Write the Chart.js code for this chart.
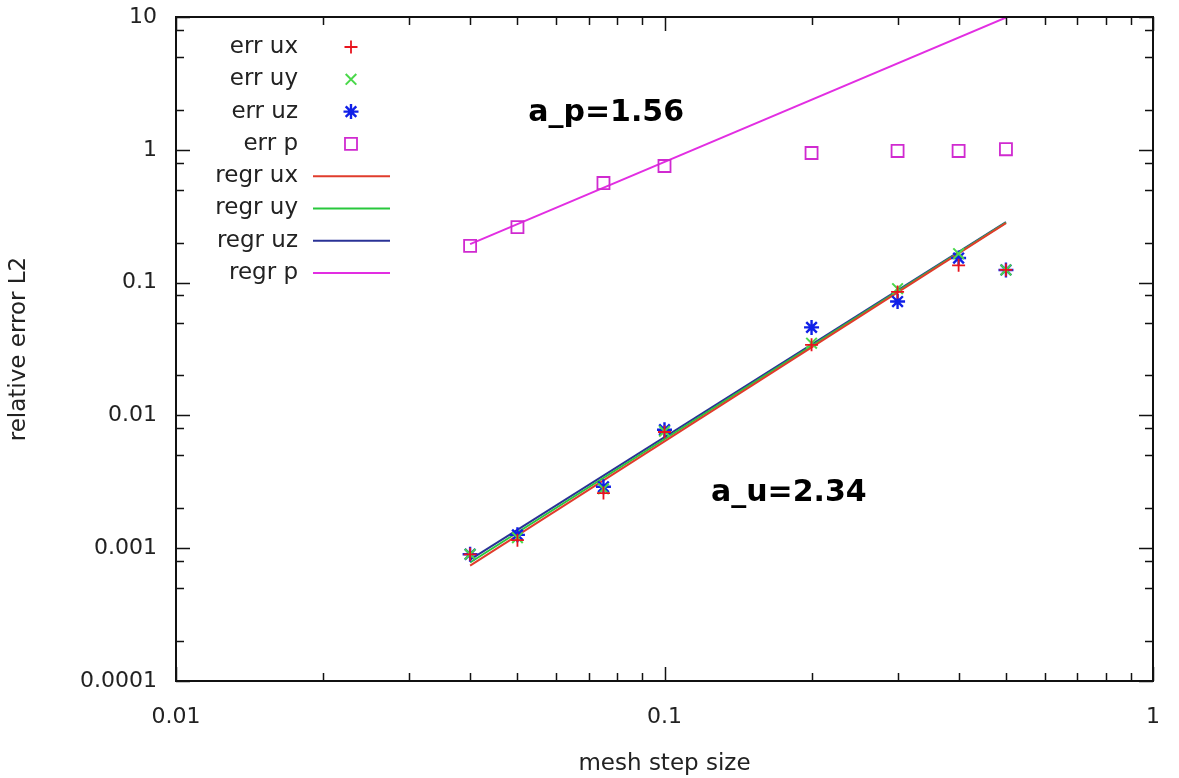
<!DOCTYPE html>
<html>
<head>
<meta charset="utf-8">
<script src="https://cdn.jsdelivr.net/npm/chart.js"></script>
<style>
  html, body { margin: 0; padding: 0; background: #ffffff; }
  #wrap { width: 1179px; height: 778px; position: relative; }
</style>
</head>
<body>
<div id="wrap"><canvas id="chart"></canvas></div>
<script>
// Mesh step sizes at which the errors were measured
const meshSteps = [0.04, 0.05, 0.075, 0.1, 0.2, 0.3, 0.4, 0.5];

// Relative L2 errors per field
const errUx = [0.00090, 0.00115, 0.0026, 0.0075, 0.034, 0.085, 0.135, 0.1245];
const errUy = [0.00090, 0.0012, 0.0028, 0.0076, 0.035, 0.090, 0.165, 0.1245];
const errUz = [0.00090, 0.00126, 0.0029, 0.0078, 0.046, 0.072, 0.153, 0.1245];
const errP  = [0.189, 0.262, 0.562, 0.755, 0.946, 0.98, 0.98, 1.01];

// Power-law regression lines, evaluated at both ends of the fitted range
const regrSteps = [0.04, 0.5];
const regrUx = [0.00074, 0.280];
const regrUy = [0.00078, 0.283];
const regrUz = [0.00082, 0.285];
const regrP  = [0.195, 9.9];

// Fitted convergence rates
const slopeTexts = ['a_p=1.56', 'a_u=2.34'];

// Axis ticks
const xTicks = [0.01, 0.1, 1];
const xTickLabels = ['0.01', '0.1', '1'];
const yTicks = [0.0001, 0.001, 0.01, 0.1, 1, 10];
const yTickLabels = ['0.0001', '0.001', '0.01', '0.1', '1', '10'];
const xMinorMultipliers = [2, 3, 4, 5, 6, 7, 8, 9];
const yMinorMultipliers = [2, 5, 8];

const FONT = "'DejaVu Sans', sans-serif";

const toPoints = (xs, ys) => xs.map((x, i) => ({ x: x, y: ys[i] }));

const markerSet = (label, ys, style, color, radius, width) => ({
  label: label,
  data: toPoints(meshSteps, ys),
  showLine: false,
  pointStyle: style,
  pointRadius: radius,
  pointHoverRadius: radius,
  pointBorderColor: color,
  pointBackgroundColor: 'rgba(0,0,0,0)',
  pointBorderWidth: width,
  borderColor: color,
  backgroundColor: 'rgba(0,0,0,0)'
});

const lineSet = (label, ys, color) => ({
  label: label,
  data: toPoints(regrSteps, ys),
  showLine: true,
  pointRadius: 0,
  borderColor: color,
  borderWidth: 2,
  backgroundColor: color,
  fill: false
});

const datasets = [
  markerSet('err ux', errUx, 'cross', '#e8141e', 6.5, 1.8),
  markerSet('err uy', errUy, 'crossRot', '#4ad84a', 7.5, 2),
  markerSet('err uz', errUz, 'star', '#1020e8', 7.5, 2.4),
  markerSet('err p', errP, 'rect', '#d02ad0', 8.5, 1.8),
  lineSet('regr ux', regrUx, '#e03c2c'),
  lineSet('regr uy', regrUy, '#28c83c'),
  lineSet('regr uz', regrUz, '#2a3296'),
  lineSet('regr p', regrP, '#e22ee2')
];

// Frame with inward major/minor tick marks on all four sides
const framePlugin = {
  id: 'gnuFrame',
  afterDatasetsDraw(chart) {
    const { ctx, chartArea: a, scales: { x, y } } = chart;
    const major = 14, minor = 8;
    ctx.save();
    ctx.strokeStyle = '#111111';
    ctx.lineWidth = 1.5;
    ctx.beginPath();
    const decX = [0.01, 0.1];
    const decY = [0.0001, 0.001, 0.01, 0.1, 1];
    xTicks.forEach(v => {
      const px = Math.round(x.getPixelForValue(v)) + 0.5;
      ctx.moveTo(px, a.bottom); ctx.lineTo(px, a.bottom - major);
      ctx.moveTo(px, a.top); ctx.lineTo(px, a.top + major);
    });
    decX.forEach(d => xMinorMultipliers.forEach(m => {
      const px = Math.round(x.getPixelForValue(d * m)) + 0.5;
      ctx.moveTo(px, a.bottom); ctx.lineTo(px, a.bottom - minor);
      ctx.moveTo(px, a.top); ctx.lineTo(px, a.top + minor);
    }));
    yTicks.forEach(v => {
      const py = Math.round(y.getPixelForValue(v)) + 0.5;
      ctx.moveTo(a.left, py); ctx.lineTo(a.left + major, py);
      ctx.moveTo(a.right, py); ctx.lineTo(a.right - major, py);
    });
    decY.forEach(d => yMinorMultipliers.forEach(m => {
      const py = Math.round(y.getPixelForValue(d * m)) + 0.5;
      ctx.moveTo(a.left, py); ctx.lineTo(a.left + minor, py);
      ctx.moveTo(a.right, py); ctx.lineTo(a.right - minor, py);
    }));
    ctx.stroke();
    ctx.lineWidth = 2;
    ctx.strokeRect(a.left, a.top, a.right - a.left, a.bottom - a.top);
    ctx.restore();
  }
};

// Slope annotations placed in data coordinates
const slopePlugin = {
  id: 'slopeNotes',
  afterDatasetsDraw(chart, args, opts) {
    const { ctx, scales: { x, y } } = chart;
    ctx.save();
    ctx.fillStyle = '#000000';
    ctx.font = "bold 30px " + FONT;
    ctx.textAlign = 'left';
    ctx.textBaseline = 'middle';
    opts.anchors.forEach((p, i) => {
      ctx.fillText(slopeTexts[i], x.getPixelForValue(p[0]), y.getPixelForValue(p[1]));
    });
    ctx.restore();
  }
};

// Key: label right-aligned, then sample marker or line
const keyPlugin = {
  id: 'gnuKey',
  afterDraw(chart, args, opts) {
    const { ctx } = chart;
    const h = Chart.helpers;
    ctx.save();
    ctx.font = "23px " + FONT;
    ctx.textAlign = 'right';
    ctx.textBaseline = 'middle';
    chart.data.datasets.forEach((ds, i) => {
      const ty = opts.top + i * opts.rowGap;
      ctx.fillStyle = '#222222';
      ctx.fillText(ds.label, opts.textRight, ty);
      if (ds.showLine) {
        ctx.strokeStyle = ds.borderColor;
        ctx.lineWidth = ds.borderWidth;
        ctx.beginPath();
        ctx.moveTo(opts.lineStart, ty);
        ctx.lineTo(opts.lineEnd, ty);
        ctx.stroke();
      } else {
        ctx.strokeStyle = ds.pointBorderColor;
        ctx.fillStyle = 'rgba(0,0,0,0)';
        ctx.lineWidth = ds.pointBorderWidth;
        h.drawPoint(ctx, { pointStyle: ds.pointStyle, radius: ds.pointRadius, borderWidth: ds.pointBorderWidth, rotation: 0 }, opts.markerX, ty);
      }
    });
    ctx.restore();
  }
};

new Chart(document.getElementById('chart'), {
  type: 'scatter',
  data: { datasets: datasets },
  plugins: [framePlugin, slopePlugin, keyPlugin],
  options: {
    responsive: true,
    maintainAspectRatio: false,
    animation: false,
    events: [],
    layout: { padding: { top: 17, right: 26, left: 0, bottom: 0 } },
    plugins: {
      legend: { display: false },
      tooltip: { enabled: false },
      gnuKey: { top: 47, rowGap: 32.3, textRight: 298, markerX: 351, lineStart: 313, lineEnd: 390 },
      slopeNotes: { anchors: [[0.0526, 1.89], [0.1245, 0.0026]] }
    },
    scales: {
      x: {
        type: 'logarithmic',
        min: 0.01,
        max: 1,
        afterBuildTicks: s => { s.ticks = xTicks.map(v => ({ value: v })); },
        afterFit: s => { s.height = 97; s.paddingLeft = 0; s.paddingRight = 0; },
        grid: { display: false, drawTicks: false },
        border: { display: false },
        ticks: {
          autoSkip: false,
          maxRotation: 0,
          padding: 23,
          color: '#222222',
          font: { family: FONT, size: 22 },
          callback: (v, i) => xTickLabels[i]
        },
        title: {
          display: true,
          text: 'mesh step size',
          color: '#222222',
          font: { family: FONT, size: 23 },
          padding: { top: 0, bottom: 0 }
        }
      },
      y: {
        type: 'logarithmic',
        min: 0.0001,
        max: 10,
        afterBuildTicks: s => { s.ticks = yTicks.map(v => ({ value: v })); },
        afterFit: s => { s.width = 176; s.paddingTop = 0; s.paddingBottom = 0; },
        grid: { display: false, drawTicks: false },
        border: { display: false },
        ticks: {
          autoSkip: false,
          padding: 19,
          color: '#222222',
          font: { family: FONT, size: 22 },
          callback: (v, i) => yTickLabels[i]
        },
        title: {
          display: true,
          text: 'relative error L2',
          color: '#222222',
          font: { family: FONT, size: 23 },
          padding: { top: 5, bottom: 0 }
        }
      }
    }
  }
});
</script>
</body>
</html>
